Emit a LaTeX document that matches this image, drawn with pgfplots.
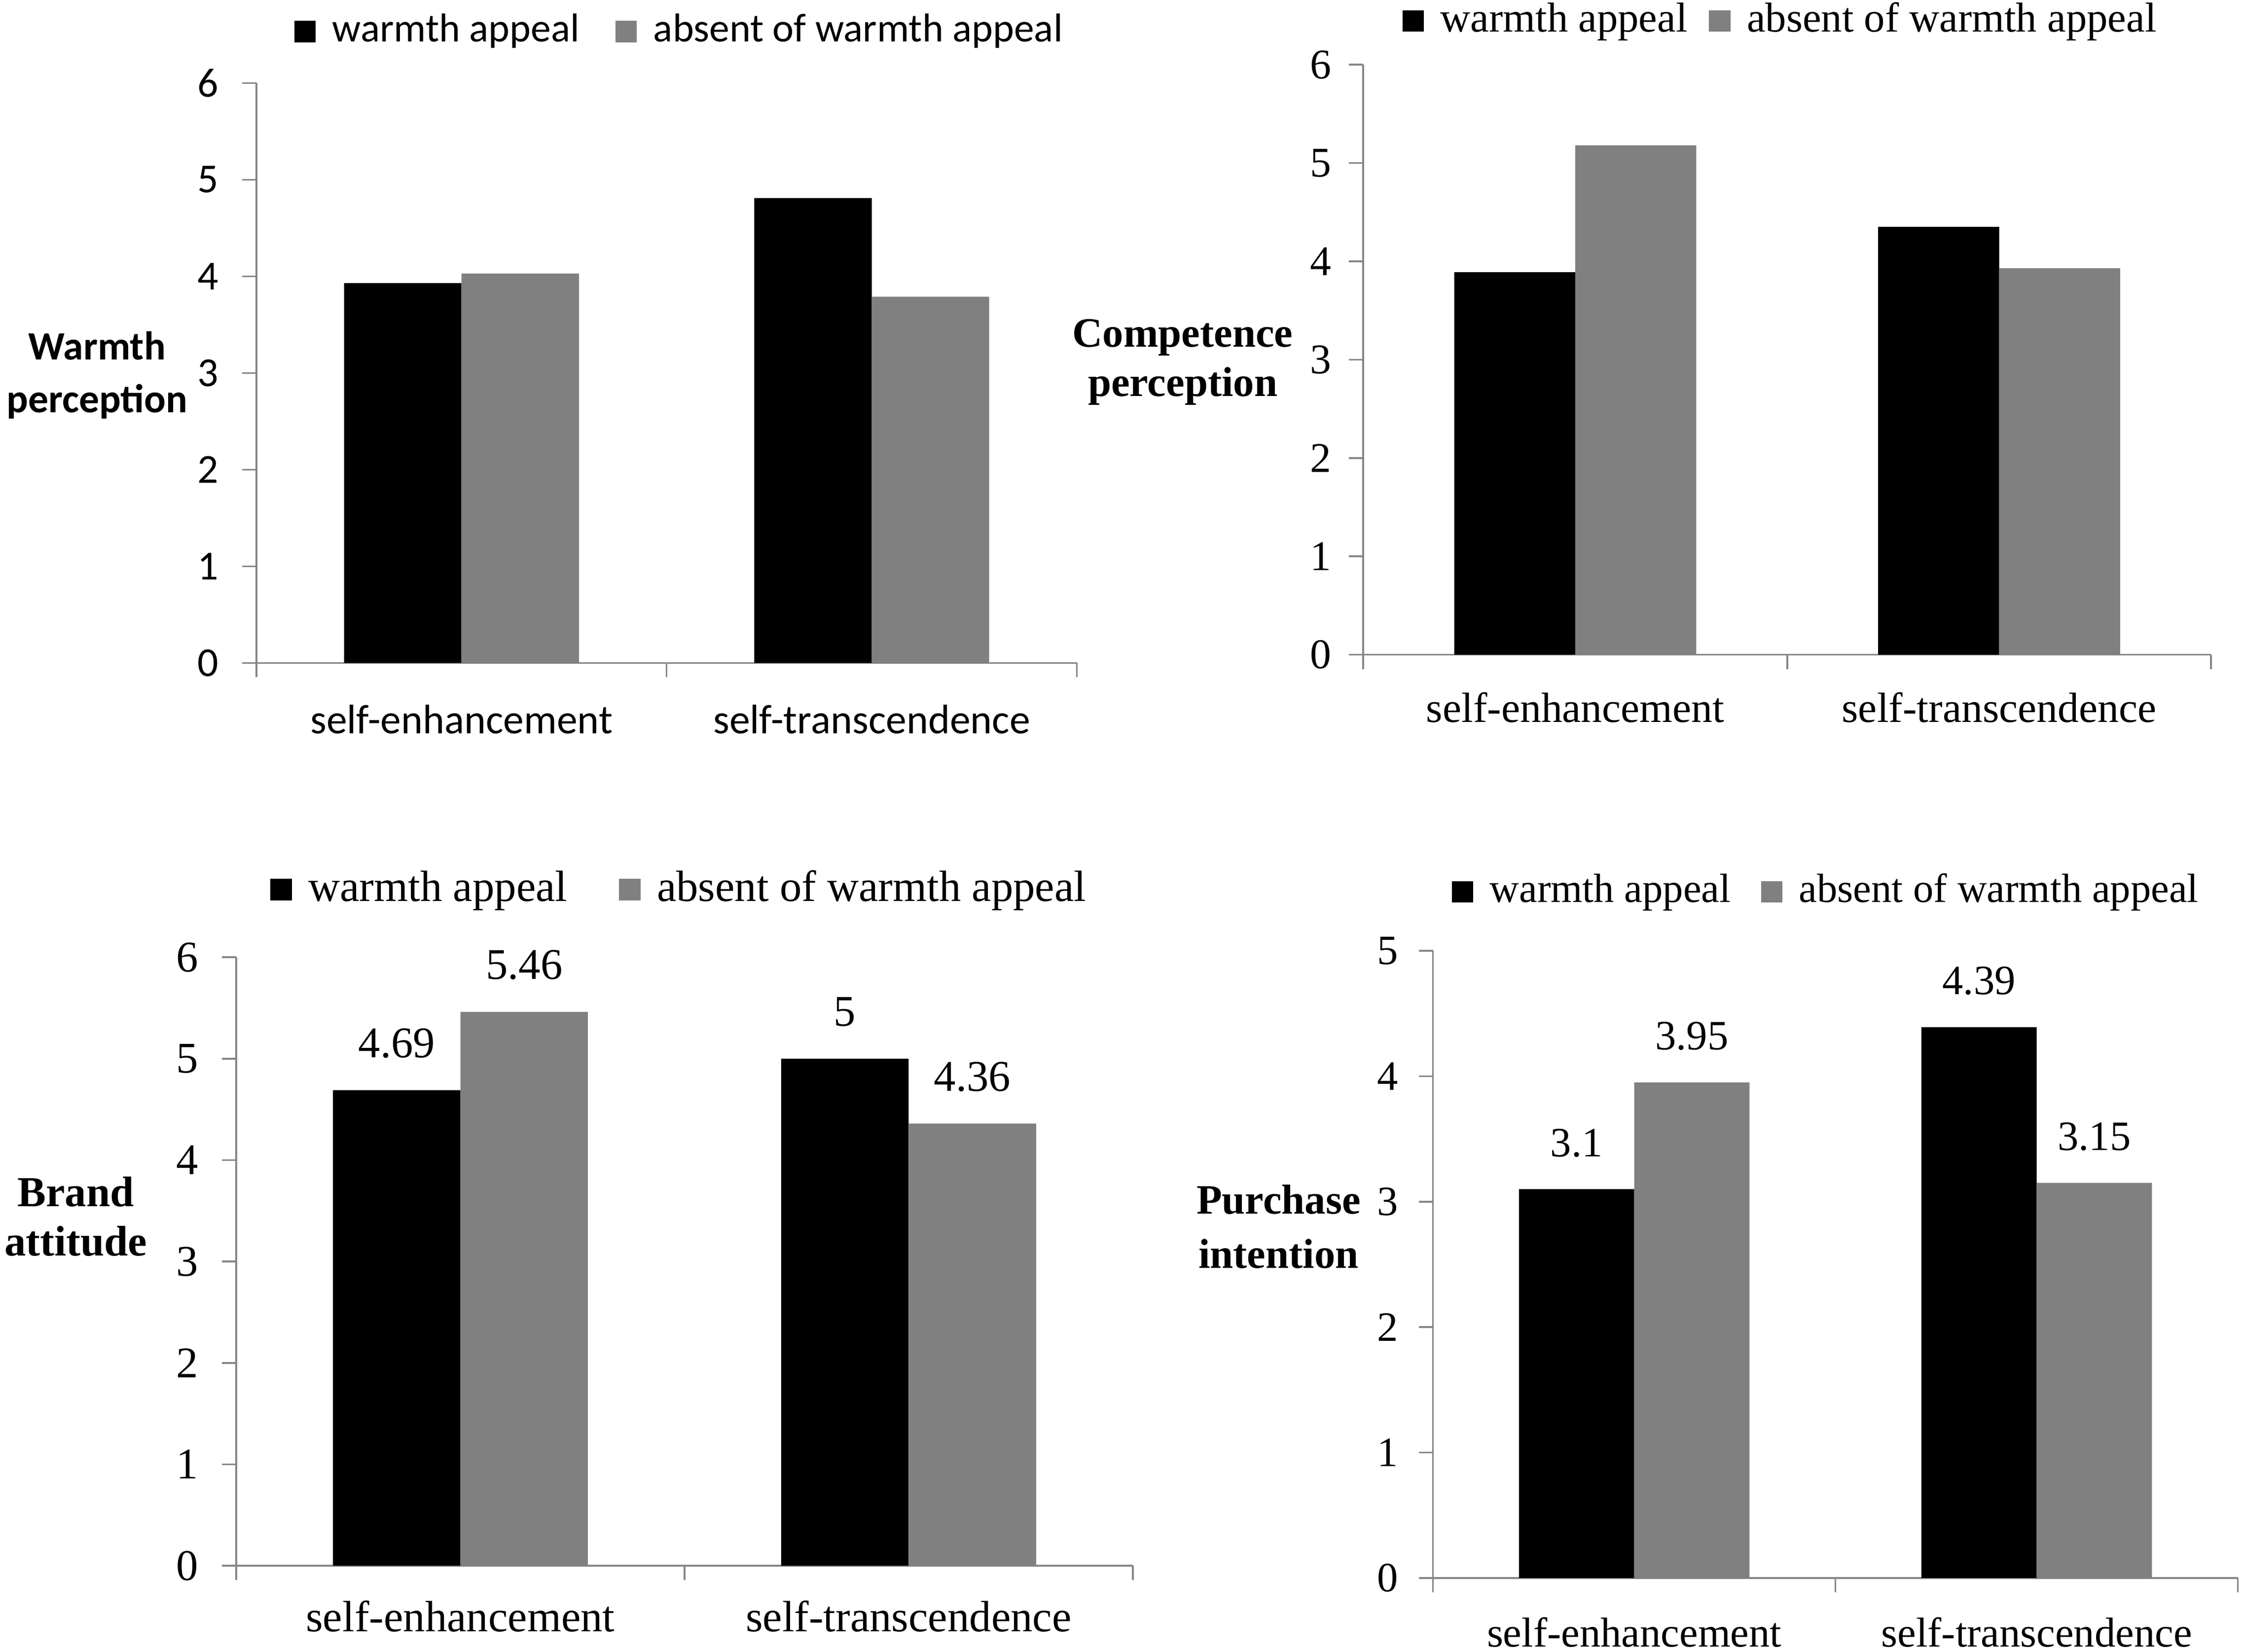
\documentclass[border=0pt]{standalone}
\usepackage{fontspec}
\setmainfont{Liberation Serif}
\newfontfamily\calfont{Carlito}
\usepackage{pgfplots}
\pgfplotsset{compat=1.18}
\definecolor{axgray}{HTML}{868686}
\definecolor{bargray}{HTML}{808080}
\pgfplotsset{
  panel/.style={
    scale only axis, ybar=0pt, axis lines=left,
    axis line style={-, draw=axgray, line width=0.35pt},
    tick align=outside, major tick length=1mm, minor tick length=1mm,
    ytick style={draw=axgray, line width=0.35pt},
    minor x tick style={draw=axgray, line width=0.35pt},
    major x tick style={draw=none},
    xmin=-0.5, xmax=1.5, ymin=0, enlargelimits=false,
    xtick={0,1}, xticklabels={self-enhancement,self-transcendence},
    minor xtick={-0.5,0.5,1.5},
    /pgf/number format/assume math mode=true,
    legend columns=-1,
    legend style={draw=none, fill=none, inner sep=0pt, anchor=west},
    clip=false,
  },
  sq/.style={legend image code/.code={\fill[##1] (0mm,-0.75mm) rectangle (1.5mm,0.75mm); \path (1.95mm,0mm);}},
  vals/.style={nodes near coords, every node near coord/.append style={text=black, yshift=1mm, font=#1}},
}
\begin{document}
\begin{tikzpicture}
\useasboundingbox (0,0) rectangle (156.7mm,-115.37mm);
% ---------- top left ----------
\begin{axis}[panel, at={(17.9mm,-46.3mm)}, anchor=south west,
  width=57.3mm, height=40.5mm, ymax=6, ytick={0,...,6}, bar width=8.2mm,
  tick label style={font=\calfont\fontsize{8.2}{9.8}\selectfont},
  xticklabel style={yshift=-0.7mm}, yticklabel style={xshift=-0.4mm},
  every axis y label/.style={at={(axis description cs:-0.194,0.496)}, anchor=center, align=center, font=\calfont\bfseries\fontsize{8}{10.5}\selectfont},
  ylabel={Warmth\\perception},
  legend style={at={(axis description cs:0.045,1.089)}, font=\calfont\fontsize{8}{9.6}\selectfont,
    /tikz/every even column/.append style={column sep=1.8mm}},
]
\addplot[fill=black, draw=none, sq] coordinates {(0,3.93) (1,4.81)};
\addplot[fill=bargray, draw=none, sq] coordinates {(0,4.03) (1,3.79)};
\legend{warmth appeal, absent of warmth appeal}
\end{axis}
% ---------- top right ----------
\begin{axis}[panel, at={(95.2mm,-45.72mm)}, anchor=south west,
  width=59.2mm, height=41.2mm, ymax=6, ytick={0,...,6}, bar width=8.45mm,
  tick label style={font=\fontsize{8.4}{10}\selectfont},
  xticklabel style={yshift=-0.4mm}, yticklabel style={xshift=0mm},
  every axis y label/.style={at={(axis description cs:-0.213,0.496)}, anchor=center, align=center, font=\bfseries\fontsize{8.3}{9.8}\selectfont},
  ylabel={Competence\\perception},
  legend style={at={(axis description cs:0.045,1.074)}, font=\fontsize{8.3}{10}\selectfont,
    /tikz/every even column/.append style={column sep=0.8mm}},
]
\addplot[fill=black, draw=none, sq] coordinates {(0,3.89) (1,4.35)};
\addplot[fill=bargray, draw=none, sq] coordinates {(0,5.18) (1,3.93)};
\legend{warmth appeal, absent of warmth appeal}
\end{axis}
% ---------- bottom left ----------
\begin{axis}[panel, at={(16.5mm,-109.35mm)}, anchor=south west,
  width=62.6mm, height=42.5mm, ymax=6, ytick={0,...,6}, bar width=8.9mm,
  tick label style={font=\fontsize{8.7}{10.4}\selectfont},
  xticklabel style={yshift=-0.2mm}, yticklabel style={xshift=-0.4mm},
  every axis y label/.style={at={(axis description cs:-0.179,0.574)}, anchor=center, align=center, font=\bfseries\fontsize{8.5}{9.8}\selectfont},
  ylabel={Brand\\attitude},
  legend style={at={(axis description cs:0.037,1.111)}, font=\fontsize{8.7}{10.4}\selectfont,
    /tikz/every even column/.append style={column sep=2.9mm}},
  vals=\fontsize{8.7}{10.4}\selectfont,
]
\addplot[fill=black, draw=none, sq] coordinates {(0,4.69) (1,5)};
\addplot[fill=bargray, draw=none, sq] coordinates {(0,5.46) (1,4.36)};
\legend{warmth appeal, absent of warmth appeal}
\end{axis}
% ---------- bottom right ----------
\begin{axis}[panel, at={(100.07mm,-110.2mm)}, anchor=south west,
  width=56.2mm, height=43.8mm, ymax=5, ytick={0,...,5}, bar width=8.05mm,
  tick label style={font=\fontsize{8.3}{10}\selectfont},
  xticklabel style={yshift=-0.5mm}, yticklabel style={xshift=-0.2mm},
  every axis y label/.style={at={(axis description cs:-0.192,0.56)}, anchor=center, align=center, font=\bfseries\fontsize{8.3}{10.8}\selectfont},
  ylabel={Purchase\\intention},
  legend style={at={(axis description cs:0.022,1.094)}, font=\fontsize{8.1}{10}\selectfont,
    /tikz/every even column/.append style={column sep=1.4mm}},
  vals=\fontsize{8.3}{10}\selectfont,
]
\addplot[fill=black, draw=none, sq] coordinates {(0,3.1) (1,4.39)};
\addplot[fill=bargray, draw=none, sq] coordinates {(0,3.95) (1,3.15)};
\legend{warmth appeal, absent of warmth appeal}
\end{axis}
\end{tikzpicture}
\end{document}
